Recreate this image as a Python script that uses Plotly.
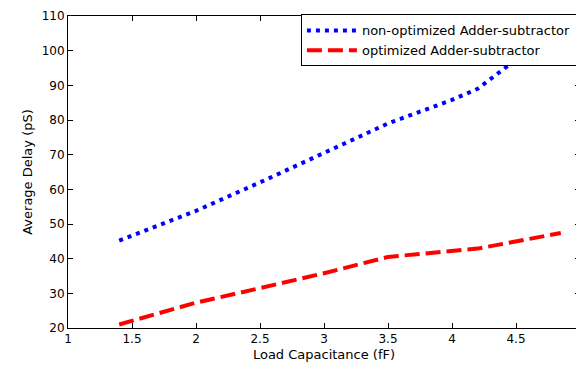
import plotly.graph_objects as go

cap_nonopt = [1.4, 2.0, 2.5, 3.0, 3.5, 4.0, 4.2, 4.5, 4.85]
delay_nonopt = [45.2, 53.8, 62.0, 70.5, 79.0, 85.8, 89.0, 97.4, 106.5]

cap_opt = [1.4, 2.0, 2.5, 3.0, 3.5, 4.2, 4.85]
delay_opt = [21.0, 27.3, 31.5, 35.8, 40.5, 42.9, 47.4]

x_ticks = [1, 1.5, 2, 2.5, 3, 3.5, 4, 4.5, 5]
x_labels = ["1", "1.5", "2", "2.5", "3", "3.5", "4", "4.5", "5"]
y_ticks = [20, 30, 40, 50, 60, 70, 80, 90, 100, 110]

font_family = "DejaVu Sans, Liberation Sans, Arial, sans-serif"

fig = go.Figure()
fig.add_trace(go.Scatter(
    x=cap_nonopt, y=delay_nonopt, mode="lines",
    name="non-optimized Adder-subtractor",
    line=dict(color="#0000ff", width=4, dash="4px,5px"),
))
fig.add_trace(go.Scatter(
    x=cap_opt, y=delay_opt, mode="lines",
    name="optimized Adder-subtractor",
    line=dict(color="#ff0000", width=4, dash="15px,6px"),
))

axis_common = dict(
    showgrid=False, zeroline=False, showline=True, linecolor="black",
    linewidth=1, mirror="ticks", ticks="inside", ticklen=5,
    tickcolor="black", automargin=False,
    tickfont=dict(size=12, color="black", family=font_family),
)

# page body has an 8px default margin, so the figure is sized to fit the window
fig.update_layout(
    width=576, height=362,
    margin=dict(l=60, r=4, t=8, b=42),
    paper_bgcolor="white", plot_bgcolor="white",
    font=dict(family=font_family, color="black"),
    xaxis=dict(range=[1, 5], tickvals=x_ticks, ticktext=x_labels,
               title=dict(text="Load Capacitance (fF)", font=dict(size=13), standoff=4),
               **axis_common),
    yaxis=dict(range=[20, 110], tickvals=y_ticks,
               title=dict(text="Average Delay (pS)", font=dict(size=13), standoff=6),
               **axis_common),
    legend=dict(x=0.994, y=1.005, xanchor="right", yanchor="top",
                bgcolor="white", bordercolor="black", borderwidth=1,
                font=dict(size=13, color="black"), tracegroupgap=0,
                itemwidth=50),
    showlegend=True,
)

fig.write_html("out.html")
